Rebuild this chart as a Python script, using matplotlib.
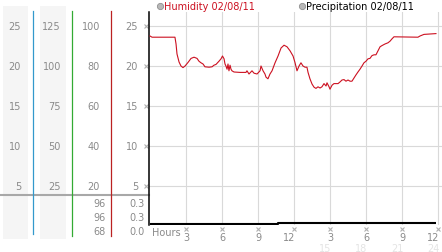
import matplotlib
matplotlib.use("Agg")
import matplotlib.pyplot as plt
from matplotlib.transforms import blended_transform_factory, offset_copy
from matplotlib.patches import Rectangle
from matplotlib.lines import Line2D

# ---------------- data ----------------
hum_hours = [0.0, 0.17, 2.08, 2.17, 2.25, 2.42, 2.58, 2.75, 2.92, 3.17, 3.42, 3.67, 3.92,
             4.08, 4.25, 4.42, 4.58, 4.92, 5.17, 5.33, 5.5, 5.75, 5.92, 6.04, 6.17, 6.25,
             6.33, 6.42, 6.5, 6.58, 6.67, 6.75, 6.83, 7.0, 7.5, 8.0, 8.08, 8.25, 8.5, 8.67,
             8.92, 9.17, 9.25, 9.42, 9.58, 9.67, 9.83, 10.0, 10.17, 10.42, 10.67, 10.92,
             11.17, 11.42, 11.67, 11.92, 12.08, 12.25, 12.42, 12.58, 12.75, 12.92, 13.08,
             13.17, 13.33, 13.5, 13.67, 13.83, 14.0, 14.17, 14.33, 14.5, 14.67, 14.75,
             14.92, 15.0, 15.17, 15.33, 15.67, 15.83, 16.0, 16.17, 16.33, 16.5, 16.67,
             16.83, 17.0, 17.17, 17.33, 17.5, 17.67, 17.83, 18.0, 18.17, 18.33, 18.5,
             18.67, 18.83, 19.0, 19.17, 19.33, 19.58, 19.83, 20.0, 20.17, 20.33, 22.33,
             22.5, 22.83, 23.83]
hum_values = [23.75, 23.6, 23.6, 22.75, 21.5, 20.5, 20.0, 19.8, 20.0, 20.45, 20.95, 21.1, 20.95,
              20.6, 20.4, 20.25, 19.9, 19.85, 19.9, 20.1, 20.2, 20.6, 20.9, 21.25, 20.9, 20.25,
              20.0, 19.6, 20.25, 19.4, 20.1, 19.6, 19.4, 19.25, 19.2, 19.2, 19.4, 19.0, 19.4, 19.1,
              19.0, 19.4, 20.0, 19.4, 19.0, 18.6, 18.4, 19.0, 19.4, 20.4, 21.25, 22.25,
              22.6, 22.4, 21.9, 21.25, 20.45, 19.4, 20.0, 20.4, 20.0, 19.85, 19.85,
              19.2, 18.4, 17.75, 17.35, 17.2, 17.4, 17.25, 17.4, 17.8, 17.5, 17.9,
              17.4, 17.1, 17.6, 17.8, 17.8, 18.0, 18.25, 18.3, 18.1, 18.25, 18.1,
              18.1, 18.5, 18.9, 19.25, 19.6, 20.0, 20.4, 20.6, 20.9, 20.95, 21.3,
              21.4, 21.4, 21.9, 22.4, 22.55, 22.75, 22.9, 23.1, 23.4, 23.65, 23.6,
              23.75, 23.95, 24.05]

precip_hours = [0.0, 10.7, 10.7, 23.83]
precip_values = [0.0, 0.0, 0.3, 0.3]

grid_values = [25, 20, 15, 10, 5]
col1_labels = ['25', '20', '15', '10', '5']
col2_labels = ['125', '100', '75', '50', '25']
col3_labels = ['100', '80', '60', '40', '20']
col4_labels = ['25', '20', '15', '10', '5']
stats3 = ['96', '96', '68']
stats4 = ['0.3', '0.3', '0.0']

xtick_hours = [3, 6, 9, 12, 15, 18, 21, 24]
xtick_labels = ['3', '6', '9', '12', '3', '6', '9', '12']
xtick_labels2 = ['', '', '', '', '15', '18', '21', '24']

legend_names = ['Humidity 02/08/11', 'Precipitation 02/08/11']

# ---------------- layout ----------------
W, H = 442, 253
fig = plt.figure(figsize=(W / 100, H / 100), dpi=100)
fig.patch.set_facecolor('white')


def fx(p):
    return p / W


def fy(p):
    return 1 - p / H


# pixel-coordinate overlay for decorations
bg = fig.add_axes([0, 0, 1, 1])
bg.set_xlim(0, W)
bg.set_ylim(H, 0)
bg.axis('off')

ax = fig.add_axes([fx(149), fy(226), fx(442) - fx(149), fy(13) - fy(226)])
ax.set_xlim(-1 / 12, (442 - 150) / 12)
ax.set_ylim(0.125, 26.75)
ax.patch.set_alpha(0)
for s in ['top', 'right', 'bottom']:
    ax.spines[s].set_visible(False)
ax.spines['left'].set_color('black')
ax.spines['left'].set_linewidth(1.1)
ax.set_xticks([])
ax.set_yticks([])

gray_grid = '#d9d9d9'
for v in grid_values:
    ax.axhline(v, color=gray_grid, lw=0.8, zorder=1)
for h in xtick_hours:
    ax.axvline(h, color=gray_grid, lw=0.8, zorder=1)

ax.plot(hum_hours, hum_values, color='#cc1020', lw=0.8, zorder=3)

ax2 = ax.twinx()
ax2.set_ylim(-0.3, (225 - 13) * 0.3)
ax2.axis('off')
ax2.plot(precip_hours, precip_values, color='black', lw=1.5, solid_capstyle='butt', zorder=3)

# left panel (in pixels for x, data for y)
tr_y = blended_transform_factory(bg.transData, ax.transData)
bg.add_patch(Rectangle((3, 7), 25, 233, facecolor='#f5f5f5', edgecolor='none', zorder=0))
bg.add_patch(Rectangle((40, 7), 26, 233, facecolor='#f5f5f5', edgecolor='none', zorder=0))
bg.add_line(Line2D([0, 149], [196, 196], color='#a8a8a8', lw=1.5, zorder=1))
bg.add_line(Line2D([33, 33], [12, 235], color='#3399cc', lw=0.9, zorder=2))
bg.add_line(Line2D([72, 72], [12, 237], color='#33aa33', lw=0.9, zorder=2))
bg.add_line(Line2D([111, 111], [12, 237], color='#bb2222', lw=0.9, zorder=2))

txt = dict(fontsize=7, color='#8a8a8a', family='DejaVu Sans', va='center')
for v, a, b, c, d in zip(grid_values, col1_labels, col2_labels, col3_labels, col4_labels):
    bg.text(21, v, a, ha='right', transform=tr_y, **txt)
    bg.text(61, v, b, ha='right', transform=tr_y, **txt)
    bg.text(100, v, c, ha='right', transform=tr_y, **txt)
    bg.text(138, v, d, ha='right', transform=tr_y, **txt)
    bg.plot([145.5], [v], marker='x', ms=2.5, mew=0.8, color='#b0b0b0', transform=tr_y, clip_on=False)

for yp, a, b in zip([204, 218, 232], stats3, stats4):
    bg.text(106, yp, a, ha='right', **txt)
    bg.text(145, yp, b, ha='right', **txt)

# x tick labels
tr_x = blended_transform_factory(ax.transData, bg.transData)
tr_lab = offset_copy(tr_x, fig=fig, x=1.5, y=0, units='dots')
bg.text(152, 233, 'Hours', ha='left', **txt)
for h, l1, l2 in zip(xtick_hours, xtick_labels, xtick_labels2):
    bg.plot([h], [229.5], marker='x', ms=2.5, mew=0.8, color='#b0b0b0', transform=tr_x, clip_on=False)
    bg.text(h, 238, l1, ha='right' if len(l1) > 1 else 'center',
            transform=tr_lab if len(l1) > 1 else tr_x, **txt)
    if l2:
        bg.text(h, 249, l2, ha='right', transform=tr_lab, fontsize=7, color='#e4e4e4',
                family='DejaVu Sans', va='center')

# legend
for xp, name, col in [(160, legend_names[0], '#cc1020'), (302, legend_names[1], 'black')]:
    bg.plot([xp], [6.5], marker='o', ms=4.5, mfc='#b8b8b8', mec='#909090', mew=0.6)
    bg.text(xp + 3.5, 6.5, name, ha='left', va='center', fontsize=7, color=col, family='DejaVu Sans')

fig.savefig('out.png', dpi=100, facecolor='white')
